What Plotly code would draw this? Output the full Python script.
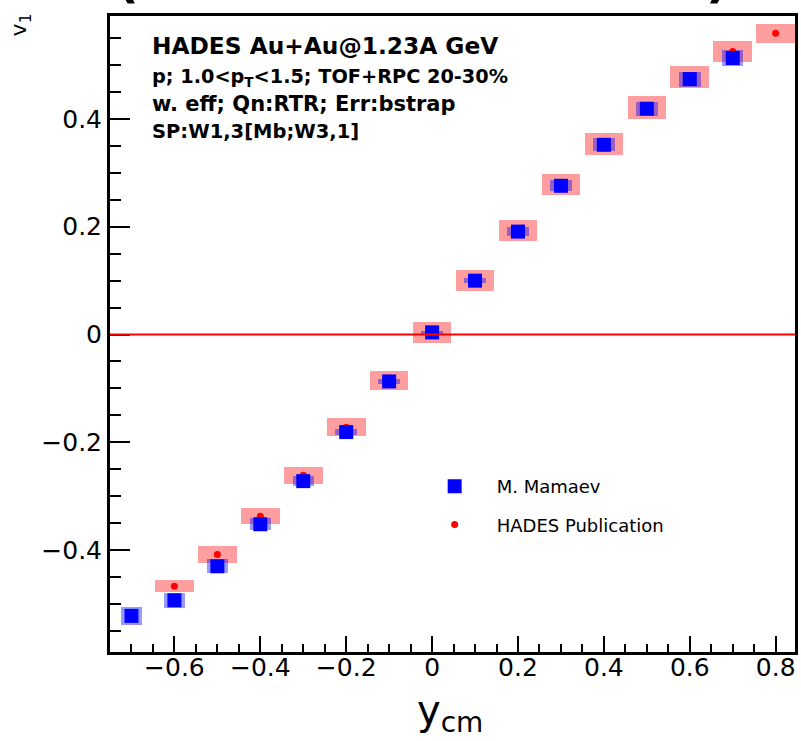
import plotly.graph_objects as go

# ---- data ----
blue_x = [-0.7, -0.6, -0.5, -0.4, -0.3, -0.2, -0.1, 0.0, 0.1, 0.2, 0.3, 0.4, 0.5, 0.6, 0.7]
blue_v = [-0.522, -0.493, -0.430, -0.352, -0.272, -0.181, -0.087, 0.004, 0.100, 0.191,
          0.276, 0.352, 0.419, 0.474, 0.513]
blue_sys = [0.016, 0.014, 0.013, 0.011, 0.009, 0.006, 0.004, 0.003, 0.005, 0.008,
            0.010, 0.012, 0.013, 0.014, 0.015]

red_x = [-0.6, -0.5, -0.4, -0.3, -0.2, -0.1, 0.0, 0.1, 0.2, 0.3, 0.4, 0.5, 0.6, 0.7, 0.8]
red_v = [-0.467, -0.408, -0.337, -0.261, -0.172, -0.085, 0.004, 0.100, 0.193, 0.278,
         0.354, 0.421, 0.478, 0.525, 0.559]
red_sys = [0.011, 0.015, 0.015, 0.016, 0.017, 0.018, 0.019, 0.019, 0.020, 0.020,
           0.020, 0.021, 0.020, 0.019, 0.018]

series_names = ["M. Mamaev", "HADES Publication"]
x_range = [-0.75, 0.845]
y_range = [-0.589, 0.591]

W, H = 801, 741
ML, MR, MT, MB = 110, 3, 16, 89
PW, PH = W - ML - MR, H - MT - MB


def px(xp):
    return (xp - ML) / PW


def py(yp):
    return (H - MB - yp) / PH


FONT = "DejaVu Sans"

fig = go.Figure()

# systematic boxes
fig.add_trace(go.Bar(
    x=red_x, y=[2 * s for s in red_sys], base=[v - s for v, s in zip(red_v, red_sys)],
    width=0.09, marker=dict(color="rgba(255,0,0,0.38)", line=dict(width=0)),
    showlegend=False, hoverinfo="skip"))
fig.add_trace(go.Bar(
    x=blue_x, y=[2 * s for s in blue_sys], base=[v - s for v, s in zip(blue_v, blue_sys)],
    width=0.05, marker=dict(color="rgba(0,0,255,0.4)", line=dict(width=0)),
    showlegend=False, hoverinfo="skip"))

# points
fig.add_trace(go.Scatter(
    x=red_x, y=red_v, mode="markers", name=series_names[1], legendgroup="g2", legendrank=2,
    marker=dict(symbol="circle", size=7, color="#ff0000", line=dict(width=0))))
fig.add_trace(go.Scatter(
    x=blue_x, y=blue_v, mode="markers", name=series_names[0], legendgroup="g1", legendrank=1,
    marker=dict(symbol="square", size=14, color="#0000ff", line=dict(width=0))))

axis_common = dict(
    showline=True, linewidth=3, linecolor="black", mirror=True,
    showgrid=False, zeroline=False,
    ticks="inside", tickwidth=2, tickcolor="black",
    tickfont=dict(family=FONT, size=25, color="black"),
    dtick=0.2, tick0=0,
)

fig.update_xaxes(range=x_range, ticklen=16, ticklabelstandoff=-9,
                 minor=dict(dtick=0.05, tick0=0, ticks="inside", ticklen=8,
                            tickwidth=2, tickcolor="black", showgrid=False),
                 **axis_common)
fig.update_yaxes(range=y_range, ticklen=20,
                 minor=dict(dtick=0.05, tick0=0, ticks="inside", ticklen=11,
                            tickwidth=2, tickcolor="black", showgrid=False),
                 **axis_common)

# zero line
fig.add_shape(type="line", xref="paper", x0=0, x1=1, yref="y", y0=0, y1=0,
              line=dict(color="#ff0000", width=2), layer="above")

annotations = []
# text block
lines = [
    ("<b>HADES Au+Au@1.23A GeV</b>", 23.3, 46),
    ("<b>p; 1.0<p<sub>T</sub><1.5; TOF+RPC 20-30%</b>", 19.3, 77),
    ("<b>w. eff; Qn:RTR; Err:bstrap</b>", 21, 104),
    ("<b>SP:W1,3[Mb;W3,1]</b>", 19.5, 132),
]
for txt, sz, yc in lines:
    annotations.append(dict(text=txt, xref="paper", yref="paper", x=px(150), y=py(yc),
                            xanchor="left", yanchor="middle", showarrow=False,
                            font=dict(family=FONT, size=sz, color="black")))
# axis titles
annotations.append(dict(text="v<sub>1</sub>", xref="paper", yref="paper", x=px(20), y=py(25),
                        xanchor="center", yanchor="middle", textangle=-90, showarrow=False,
                        font=dict(family=FONT, size=22, color="black")))
annotations.append(dict(text="y<sub>cm</sub>", xref="paper", yref="paper", x=px(451), y=py(713),
                        xanchor="center", yanchor="middle", showarrow=False,
                        font=dict(family=FONT, size=40, color="black")))
# cut-off title fragments at the very top
for ch, xc in (("(", 128), (")", 720)):
    annotations.append(dict(text="<b>%s</b>" % ch, xref="paper", yref="paper", x=px(xc), y=1,
                            xanchor="center", yanchor="bottom", yshift=5, showarrow=False,
                            font=dict(family=FONT, size=50, color="black")))

fig.update_layout(
    width=W, height=H,
    margin=dict(l=ML, r=MR, t=MT, b=MB, pad=0),
    paper_bgcolor="white", plot_bgcolor="white",
    barmode="overlay", bargap=0,
    showlegend=True,
    legend=dict(x=px(414), y=py(468), xanchor="left", yanchor="top",
                bgcolor="rgba(0,0,0,0)", borderwidth=0,
                font=dict(family=FONT, size=18, color="black"),
                traceorder="grouped", tracegroupgap=12, itemwidth=74),
    annotations=annotations,
)

fig.write_html("out.html")
